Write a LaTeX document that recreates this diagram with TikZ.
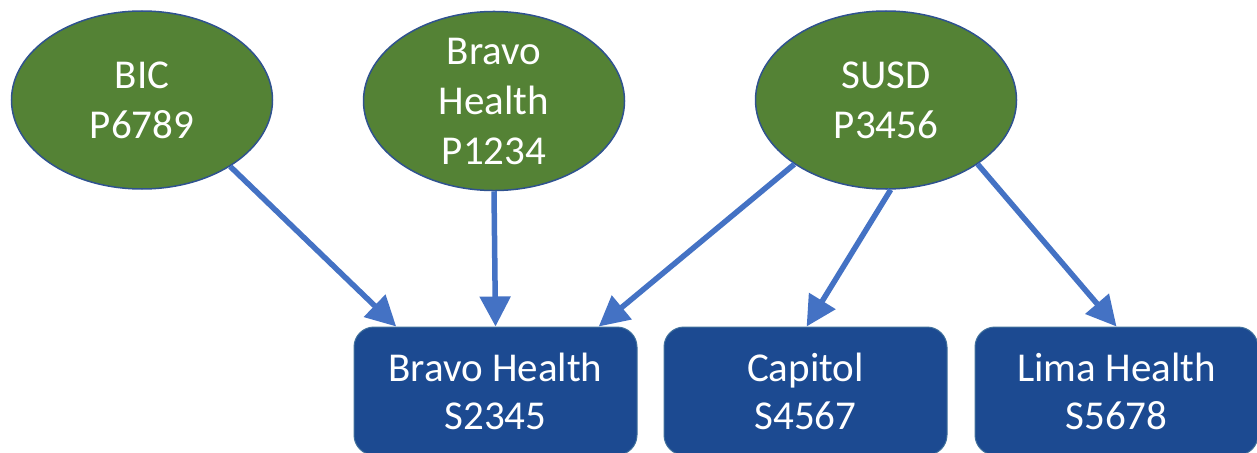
\documentclass[tikz,border=0pt]{standalone}
\usepackage{fontspec}
\setmainfont{Carlito}
\usetikzlibrary{shapes.geometric}
\usetikzlibrary{arrows.meta}
\definecolor{parentgreen}{HTML}{548235}
\definecolor{parentline}{HTML}{2F528F}
\definecolor{childblue}{HTML}{1C4A91}
\definecolor{childline}{HTML}{41719C}
\definecolor{linkblue}{HTML}{4472C4}
\tikzset{
  parent/.style={ellipse,fill=parentgreen,draw=parentline,line width=1.5pt,minimum width=261pt,minimum height=178pt,inner sep=0pt,text=white,align=center,font=\fontsize{41}{50}\selectfont},
  child/.style={rectangle,rounded corners=20pt,fill=childblue,draw=childline,line width=1pt,minimum width=283pt,minimum height=128pt,inner sep=0pt,text=white,align=center,font=\fontsize{41}{48}\selectfont},
  link/.style={draw=linkblue,line width=5.5pt,-{Triangle[length=30pt,width=30pt]}}
}

\begin{document}
\begin{tikzpicture}[x=1pt,y=-1pt]
\useasboundingbox (0,0) rectangle (1257,452);
\node[parent] (bic) at (142,100) {BIC\\P6789};
\node[parent] (bravop) at (494,101) {Bravo\\Health\\P1234};
\node[parent] (susd) at (886,100) {SUSD\\P3456};
\node[child] (bravos) at (495.5,391) {Bravo Health\\S2345};
\node[child] (capitol) at (805.5,391) {Capitol\\S4567};
\node[child] (lima) at (1116.5,391) {Lima Health\\S5678};
\draw[link] (bic.-37) -- (bravos.147.5);
\draw[link] (bravop.-90) -- (bravos.90);
\draw[link] (susd.-145) -- (bravos.32.5);
\draw[link] (susd.-87) -- (capitol.89);
\draw[link] (susd.-35) -- (lima.90);
\end{tikzpicture}
\end{document}
